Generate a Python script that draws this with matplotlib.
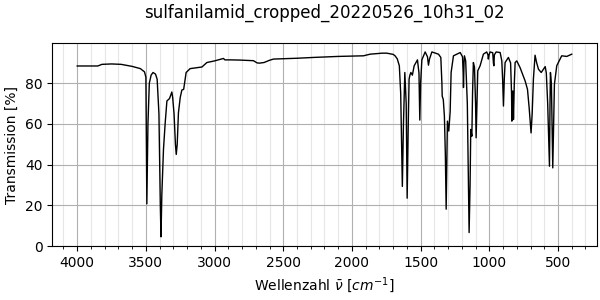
import matplotlib
matplotlib.use('Agg')
import matplotlib.pyplot as plt
from matplotlib.ticker import MultipleLocator

title = 'sulfanilamid_cropped_20220526_10h31_02'

# wavenumber [cm^-1] and transmission [%]
wavenumber = [
	4000, 3850, 3820, 3750, 3680, 3600, 3540, 3510, 3500, 3493,
	3485, 3475, 3462, 3448, 3430, 3418, 3405, 3395, 3390, 3384,
	3372, 3360, 3347, 3328, 3311, 3305, 3295, 3285, 3279, 3272,
	3263, 3250, 3238, 3225, 3207, 3178, 3092, 3056, 3000, 2935,
	2925, 2880, 2814, 2750, 2717, 2690, 2673, 2640, 2600, 2571,
	2400, 2280, 2100, 1916, 1868, 1780, 1746, 1700, 1686, 1670,
	1655, 1645, 1633, 1625, 1615, 1605, 1598, 1590, 1584, 1578,
	1571, 1560, 1547, 1523, 1512, 1506, 1500, 1491, 1467, 1450,
	1443, 1435, 1418, 1370, 1353, 1345, 1343, 1335, 1327, 1320,
	1314, 1308, 1305, 1295, 1285, 1278, 1261, 1212, 1195, 1190,
	1188, 1184, 1181, 1172, 1160, 1147, 1140, 1135, 1127, 1122,
	1116, 1108, 1100, 1096, 1090, 1084, 1067, 1043, 1019, 1010,
	1007, 1002, 994, 975, 970, 967, 963, 950, 921, 909,
	903, 897, 891, 885, 861, 845, 838, 836, 832, 829,
	826, 824, 818, 812, 800, 776, 739, 722, 710, 696,
	688, 679, 667, 655, 642, 622, 600, 593, 585, 575,
	562, 558, 555, 548, 538, 532, 526, 509, 473, 436,
	400,
]
transmission = [
	88.5, 88.5, 89.3, 89.5, 89.3, 88.3, 87.2, 85.6, 83.0, 20.7,
	60.0, 80.0, 84.0, 85.3, 84.5, 82.0, 65.0, 20.0, 4.5, 25.0,
	47.4, 60.0, 71.3, 72.5, 75.7, 73.0, 65.0, 50.0, 45.0, 50.0,
	65.5, 73.0, 76.7, 77.0, 85.3, 87.2, 88.0, 90.2, 91.0, 92.2,
	91.5, 91.5, 91.4, 91.2, 91.1, 90.0, 89.9, 90.2, 91.3, 91.9,
	92.3, 92.7, 93.2, 93.5, 94.3, 94.8, 94.8, 94.2, 93.5, 92.0,
	88.6, 75.0, 29.3, 60.0, 85.3, 70.0, 23.5, 60.0, 82.0, 84.0,
	85.3, 84.0, 88.6, 91.5, 85.0, 61.9, 80.0, 91.5, 95.4, 93.0,
	88.9, 92.0, 95.4, 94.3, 92.7, 80.0, 73.7, 72.0, 63.9, 45.0,
	18.1, 45.0, 61.4, 56.5, 66.0, 85.3, 93.5, 95.1, 93.0, 85.0,
	77.9, 90.0, 93.5, 91.0, 70.0, 6.6, 30.0, 57.3, 54.0, 75.0,
	90.2, 88.0, 70.0, 53.2, 70.0, 86.1, 88.6, 94.3, 95.4, 94.0,
	91.9, 94.0, 95.4, 95.0, 90.0, 88.6, 94.0, 95.4, 95.1, 91.0,
	82.0, 68.8, 82.0, 90.2, 92.7, 90.0, 75.0, 61.4, 70.0, 76.2,
	70.0, 62.2, 80.0, 90.2, 91.0, 87.7, 81.1, 77.0, 68.0, 55.6,
	65.0, 82.0, 93.8, 90.0, 86.9, 85.3, 87.5, 88.2, 85.0, 70.0,
	39.2, 70.0, 85.3, 80.0, 38.4, 60.0, 79.5, 88.6, 93.5, 93.2,
	94.3,
]

fig, ax = plt.subplots(figsize=(6, 3), dpi=100)
fig.subplots_adjust(left=0.087, right=0.995, top=0.856, bottom=0.18)

ax.plot(wavenumber, transmission, color='black', linewidth=1.0)

ax.set_xlim(4182, 216)
ax.set_ylim(0, 99.7)
ax.xaxis.set_minor_locator(MultipleLocator(100))
ax.grid(which='major', color='#b0b0b0', linewidth=0.8)
ax.grid(which='minor', axis='x', color='#e6e6e6', linewidth=0.8)

ax.set_title(title, pad=18)
ax.set_xlabel(r'Wellenzahl $\bar{\nu}$ $[cm^{-1}]$')
ax.set_ylabel('Transmission [%]')

fig.savefig('out.png', dpi=100)
